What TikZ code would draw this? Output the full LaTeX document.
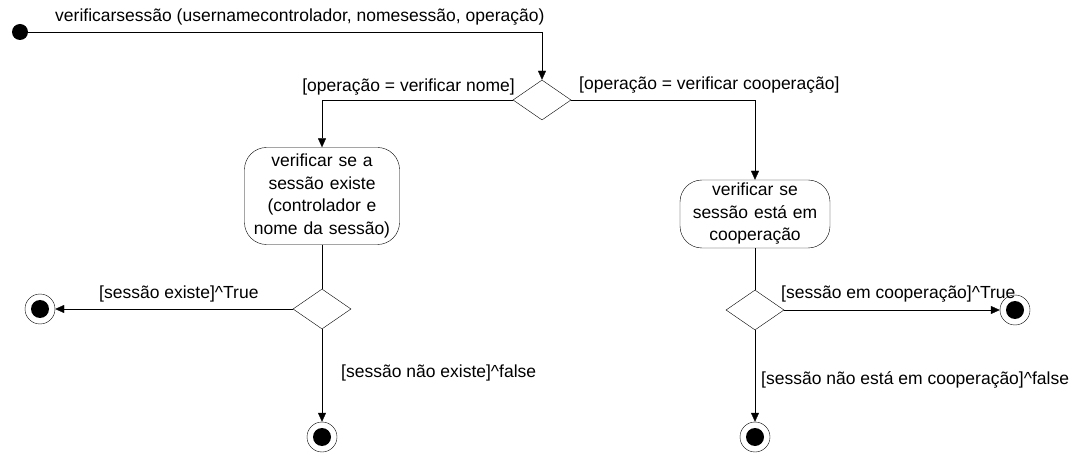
\documentclass[tikz,border=0pt]{standalone}
\usepackage{fontspec}
\setmainfont{Liberation Sans}
\usetikzlibrary{shapes.geometric,arrows.meta}
\begin{document}
\begin{tikzpicture}[x=1pt,y=-1pt,
  every node/.style={font=\fontsize{17.5}{22.5}\selectfont},
  act/.style={draw,rounded corners=22pt,align=center,inner sep=2pt},
  dec/.style={draw,diamond,minimum width=58pt,minimum height=40pt,inner sep=0pt},
  flow/.style={-{Triangle[length=9pt,width=8pt]}},
  lbl/.style={inner sep=1pt}]
\useasboundingbox (0,0) rectangle (1077,457);
\fill (20,32) circle (8) coordinate (start);
\node[dec] (d0) at (542,100) {};
\node[act,minimum width=155pt,minimum height=97pt,text width=150pt] (a1) at (322,196) {verificar se a\\sessão existe\\(controlador e\\nome da sessão)};
\node[act,minimum width=150pt,minimum height=68pt,text width=145pt] (a2) at (755,214) {verificar se\\sessão está em\\cooperação};
\node[dec] (d1) at (322,309) {};
\node[dec] (d2) at (755,310) {};
\foreach \n/\x/\y in {f1/40/309, f2/322/437, f3/1015/310, f4/755/437}{
  \node[draw,circle,minimum size=30pt,inner sep=0pt] (\n) at (\x,\y) {};
  \fill (\x,\y) circle (9);
}
\draw[flow] (start) -- (542,32) -- (d0.north);
\node[lbl,anchor=south west] at (54,26) {verificarsessão (usernamecontrolador, nomesessão, operação)};
\draw[flow] (d0.west) -| (a1.north);
\node[lbl,anchor=south east] at (516,96) {[operação = verificar nome]};
\draw[flow] (d0.east) -| (a2.north);
\node[lbl,anchor=south west] at (578,94) {[operação = verificar cooperação]};
\draw (a1.south) -- (d1.north);
\draw (a2.south) -- (d2.north);
\draw[flow] (d1.west) -- (f1.east);
\node[lbl,anchor=south west] at (98,303) {[sessão existe]\^{}True};
\draw[flow] (d1.south) -- (f2.north);
\node[lbl,anchor=west] at (340,373) {[sessão não existe]\^{}false};
\draw[flow] (d2.east) -- (f3.west);
\node[lbl,anchor=south west] at (780,303) {[sessão em cooperação]\^{}True};
\draw[flow] (d2.south) -- (f4.north);
\node[lbl,anchor=west] at (760,380) {[sessão não está em cooperação]\^{}false};
\end{tikzpicture}
\end{document}
